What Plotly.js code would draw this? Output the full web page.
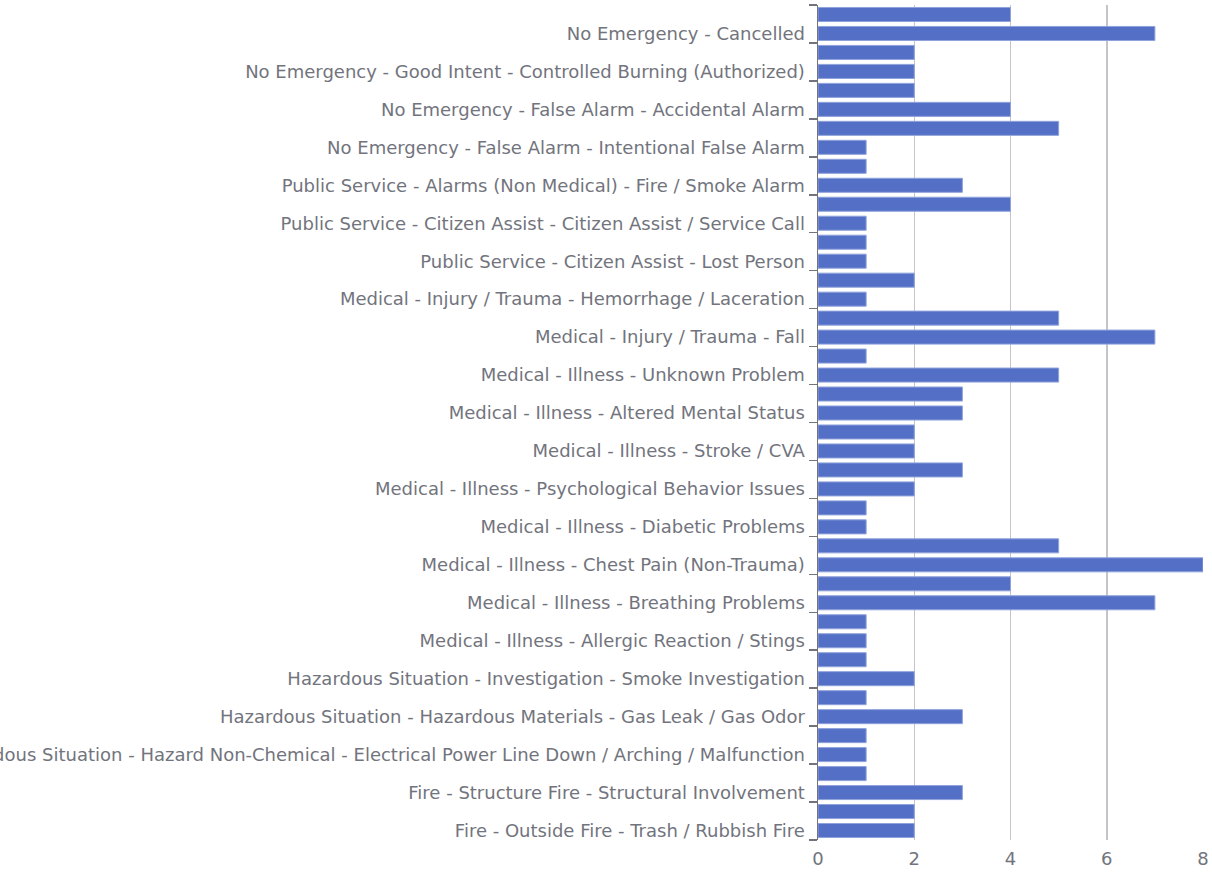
<!DOCTYPE html>
<html>
<head>
<meta charset="utf-8">
<script src="https://cdn.plot.ly/plotly-3.0.1.min.js"></script>
<style>html,body{margin:0;padding:0;background:#fff;}#chart{width:1212px;height:872px;}</style>
</head>
<body>
<div id="chart"></div>
<script>
// Categories listed from bottom to top
const categories = [
  "Fire - Outside Fire - Trash / Rubbish Fire",
  "Fire - Outside Fire - Vegetation / Grass Fire",
  "Fire - Structure Fire - Structural Involvement",
  "Fire - Vehicle Fire - Passenger Vehicle",
  "Hazardous Situation - Hazard Non-Chemical - Electrical Power Line Down / Arching / Malfunction",
  "Hazardous Situation - Hazardous Materials - Carbon Monoxide",
  "Hazardous Situation - Hazardous Materials - Gas Leak / Gas Odor",
  "Hazardous Situation - Investigation - Odor Investigation",
  "Hazardous Situation - Investigation - Smoke Investigation",
  "Hazardous Situation - Hazard Non-Chemical - Water Problem",
  "Medical - Illness - Allergic Reaction / Stings",
  "Medical - Illness - Abdominal Pain",
  "Medical - Illness - Breathing Problems",
  "Medical - Illness - Cardiac Arrest",
  "Medical - Illness - Chest Pain (Non-Trauma)",
  "Medical - Illness - Convulsions / Seizures",
  "Medical - Illness - Diabetic Problems",
  "Medical - Illness - Overdose / Poisoning",
  "Medical - Illness - Psychological Behavior Issues",
  "Medical - Illness - Sick Person",
  "Medical - Illness - Stroke / CVA",
  "Medical - Illness - Syncope / Fainting",
  "Medical - Illness - Altered Mental Status",
  "Medical - Illness - Unconscious / Unresponsive",
  "Medical - Illness - Unknown Problem",
  "Medical - Injury / Trauma - Assault",
  "Medical - Injury / Trauma - Fall",
  "Medical - Injury / Trauma - Motor Vehicle Accident",
  "Medical - Injury / Trauma - Hemorrhage / Laceration",
  "Public Service - Citizen Assist - Lift Assist",
  "Public Service - Citizen Assist - Lost Person",
  "Public Service - Citizen Assist - Lockout",
  "Public Service - Citizen Assist - Citizen Assist / Service Call",
  "Public Service - Alarms (Non Medical) - CO Alarm",
  "Public Service - Alarms (Non Medical) - Fire / Smoke Alarm",
  "Public Service - Assist Agency",
  "No Emergency - False Alarm - Intentional False Alarm",
  "No Emergency - False Alarm - Malfunction",
  "No Emergency - False Alarm - Accidental Alarm",
  "No Emergency - Good Intent - Dispatched and Cancelled",
  "No Emergency - Good Intent - Controlled Burning (Authorized)",
  "No Emergency - Good Intent - No Incident Found",
  "No Emergency - Cancelled",
  "No Emergency - Wrong Location"
];
const counts = [2,2,3,1,1,1,3,1,2,1,1,1,7,4,8,5,1,1,2,3,2,2,3,3,5,1,7,5,1,2,1,1,1,4,3,1,1,5,4,2,2,2,7,4];
const xTicks = [0,2,4,6,8];

const textColor = '#72747d';
const fontFamily = '"DejaVu Sans", sans-serif';
const fontSize = 18;

Plotly.newPlot('chart', [{
  type: 'bar',
  orientation: 'h',
  y: categories,
  x: counts,
  marker: {color: '#5470c6', line: {color: '#8fa2dc', width: 1}},
  hoverinfo: 'x+y'
}], {
  width: 1212,
  height: 872,
  margin: {l: 818, r: 9, t: 5, b: 32},
  paper_bgcolor: '#ffffff',
  plot_bgcolor: '#ffffff',
  bargap: 0.26,
  showlegend: false,
  font: {family: fontFamily, size: fontSize, color: textColor},
  xaxis: {
    range: [0, 8],
    tickmode: 'array',
    tickvals: xTicks,
    ticktext: xTicks.map(String),
    showgrid: true,
    gridcolor: '#c4c5cc',
    gridwidth: 1.5,
    zeroline: false,
    showline: false,
    ticks: '',
    ticklabelstandoff: 6,
    tickfont: {family: fontFamily, size: fontSize, color: textColor},
    automargin: false
  },
  yaxis: {
    type: 'category',
    tickmode: 'linear',
    tick0: 0,
    dtick: 2,
    tickson: 'boundaries',
    ticks: 'outside',
    ticklen: 8,
    tickwidth: 1.5,
    tickcolor: textColor,
    ticklabelstandoff: 8,
    showline: true,
    linecolor: textColor,
    linewidth: 1.5,
    showgrid: false,
    zeroline: false,
    automargin: false,
    tickfont: {family: fontFamily, size: fontSize, color: textColor}
  }
}, {displayModeBar: false, staticPlot: true});
</script>
</body>
</html>
